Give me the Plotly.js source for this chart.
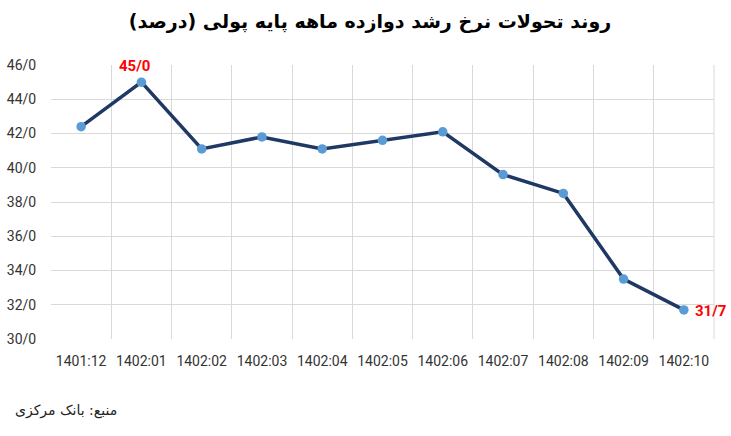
<!DOCTYPE html>
<html>
<head>
<meta charset="utf-8">
<script src="https://cdn.plot.ly/plotly-3.0.1.min.js"></script>
<style>html,body{margin:0;padding:0;background:#fff;}#chart{width:731px;height:436px;}</style>
</head>
<body>
<div id="chart"></div>
<script>
const categories = ["1401:12","1402:01","1402:02","1402:03","1402:04","1402:05","1402:06","1402:07","1402:08","1402:09","1402:10"];
const growthRate = [42.4, 45.0, 41.1, 41.8, 41.1, 41.6, 42.1, 39.6, 38.5, 33.5, 31.7];
const yTickValues = [30, 32, 34, 36, 38, 40, 42, 44, 46];
const yTickLabels = yTickValues.map(v => v.toFixed(1).replace('.', '/'));
const titleText = "روند تحولات نرخ رشد دوازده ماهه پایه پولی (درصد)";
const sourceText = "منبع: بانک مرکزی";
const highlightIdx = [1, 10];

const fmt = v => v.toFixed(1).replace('.', '/');

const trace = {
  x: categories,
  y: growthRate,
  type: 'scatter',
  mode: 'lines+markers',
  line: {color: '#1f3864', width: 3.5},
  marker: {color: '#5b9bd5', size: 9.5},
  hoverinfo: 'x+y'
};

const W = 731, H = 436, mL = 51, mR = 17, mT = 65, mB = 97;
const pw = W - mL - mR, ph = H - mT - mB;

const annotations = [
  {
    x: categories[highlightIdx[0]], y: growthRate[highlightIdx[0]],
    xref: 'x', yref: 'y', text: '<b>' + fmt(growthRate[highlightIdx[0]]) + '</b>',
    showarrow: false, yshift: 16, xshift: -7,
    font: {family: 'Roboto, Arial, sans-serif', size: 15, color: '#ff0000'}
  },
  {
    x: categories[highlightIdx[1]], y: growthRate[highlightIdx[1]],
    xref: 'x', yref: 'y', text: '<b>' + fmt(growthRate[highlightIdx[1]]) + '</b>',
    showarrow: false, xshift: 27, yshift: -1,
    font: {family: 'Roboto, Arial, sans-serif', size: 15, color: '#ff0000'}
  },
  {
    x: (66 - mL) / pw, y: (H - mB - 410) / ph, xref: 'paper', yref: 'paper', text: sourceText,
    showarrow: false, xanchor: 'center', yanchor: 'middle',
    font: {family: 'DejaVu Sans, sans-serif', size: 14, color: '#222222'}
  }
];

const layout = {
  width: W, height: H,
  margin: {l: mL, r: mR, t: mT, b: mB},
  paper_bgcolor: '#ffffff',
  plot_bgcolor: '#ffffff',
  showlegend: false,
  title: {
    text: '<b>' + titleText + '</b>',
    x: 370 / W, xref: 'container', y: 1 - 21 / H, yref: 'container', xanchor: 'center', yanchor: 'middle',
    font: {family: 'DejaVu Sans, sans-serif', size: 19, color: '#000000'}
  },
  xaxis: {
    type: 'category',
    tickson: 'boundaries',
    showgrid: true, gridcolor: '#d9d9d9', gridwidth: 1,
    showline: false, zeroline: false,
    ticks: '', ticklabelstandoff: 12,
    tickfont: {family: 'Roboto, Arial, sans-serif', size: 14, color: '#333333'},
    range: [-0.5, 10.5]
  },
  yaxis: {
    range: [30, 46],
    tickvals: yTickValues, ticktext: yTickLabels,
    showgrid: true, gridcolor: '#d9d9d9', gridwidth: 1,
    zeroline: false, showline: false,
    ticks: 'outside', ticklen: 11, tickcolor: 'rgba(0,0,0,0)',
    tickfont: {family: 'Roboto, Arial, sans-serif', size: 14, color: '#333333'}
  },
  shapes: [
    {type: 'line', xref: 'paper', yref: 'paper', x0: 1, x1: 1, y0: 0, y1: 1, line: {color: '#d9d9d9', width: 1}}
  ],
  annotations: annotations
};

Plotly.newPlot('chart', [trace], layout, {displayModeBar: false, staticPlot: true});
</script>
</body>
</html>
